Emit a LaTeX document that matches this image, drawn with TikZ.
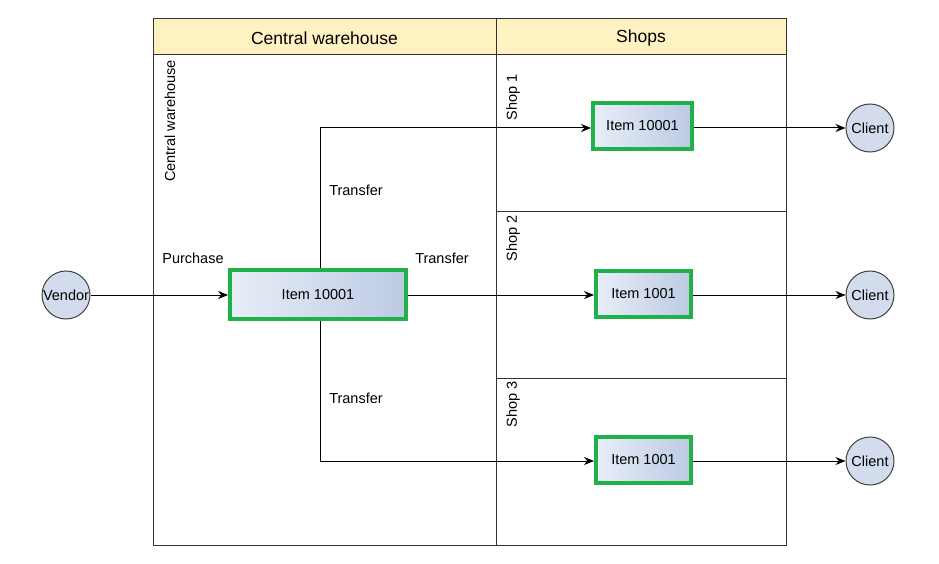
\documentclass[tikz,border=0pt]{standalone}
\usepackage{fontspec}
\setmainfont{Liberation Sans}
\usetikzlibrary{arrows.meta}
\definecolor{hdr}{HTML}{FFF2C2}
\definecolor{grn}{HTML}{21B14B}
\definecolor{lt}{HTML}{E8EEF8}
\definecolor{dk}{HTML}{BCCAE3}
\definecolor{circ}{HTML}{D3DCEC}
\tikzset{
  lane/.style={draw=black!80, line width=1pt},
  item/.style={draw=grn, line width=4pt, left color=lt, right color=dk, font=\fontsize{14.5}{16}\selectfont, inner sep=0pt, anchor=center},
  endpt/.style={circle, draw=black!75, line width=1pt, fill=circ, minimum size=48pt, inner sep=0pt, font=\fontsize{14.5}{16}\selectfont},
  flow/.style={draw=black, line width=1pt, -{Stealth[length=10pt,width=8pt]}},
  lbl/.style={font=\fontsize{14.5}{16}\selectfont, inner sep=0pt},
  vlbl/.style={font=\fontsize{14.5}{16}\selectfont, inner sep=0pt, rotate=90, anchor=east}
}
\begin{document}
\begin{tikzpicture}[x=1pt,y=-1pt]
\useasboundingbox (0,0) rectangle (939,564);
% header
\fill[hdr] (153,19) rectangle (786,55);
\draw[lane] (153,19) rectangle (786,545);
\draw[lane] (153,55) -- (786,55);
\draw[lane] (496,19) -- (496,545);
\draw[lane] (496,211) -- (786,211);
\draw[lane] (496,378) -- (786,378);
\node[font=\fontsize{17.5}{19}\selectfont] (h1) at (324.5,38) {Central warehouse};
\node[font=\fontsize{17.5}{19}\selectfont] (h2) at (641,38) {Shops};
\node[vlbl] (cw) at (170,60) {Central warehouse};
\node[vlbl] (s1) at (513,74) {Shop 1};
\node[vlbl] (s2) at (513,215) {Shop 2};
\node[vlbl] (s3) at (513,381) {Shop 3};
% nodes
\node[endpt] (vendor) at (66,295) {Vendor};
\node[endpt] (c1) at (870,128) {Client};
\node[endpt] (c2) at (870,295) {Client};
\node[endpt] (c3) at (870,461) {Client};
\node[item, minimum width=176pt, minimum height=49pt] (main) at (318,294.5) {Item 10001};
\node[item, minimum width=99pt, minimum height=46pt] (i1) at (642.5,126) {Item 10001};
\node[item, minimum width=95pt, minimum height=46pt] (i2) at (643.5,294) {Item 1001};
\node[item, minimum width=95pt, minimum height=46pt] (i3) at (643.5,460) {Item 1001};
% flows
\draw[flow] (vendor.east) -- (vendor.east -| main.west);
\draw[flow] (main.east |- 0,295) -- (i2.west |- 0,295);
\draw[flow] (main.north -| 320,0) |- (i1.west |- 0,128);
\draw[flow] (main.south -| 320,0) |- (i3.west |- 0,461);
\draw[flow] (i1.east |- 0,128) -- (c1.west);
\draw[flow] (i2.east |- 0,295) -- (c2.west);
\draw[flow] (i3.east |- 0,461) -- (c3.west);
% labels
\node[lbl] (lp) at (193,258) {Purchase};
\node[lbl] (lt1) at (356,190) {Transfer};
\node[lbl] (lt2) at (442,258) {Transfer};
\node[lbl] (lt3) at (356,398) {Transfer};
\end{tikzpicture}
\end{document}
